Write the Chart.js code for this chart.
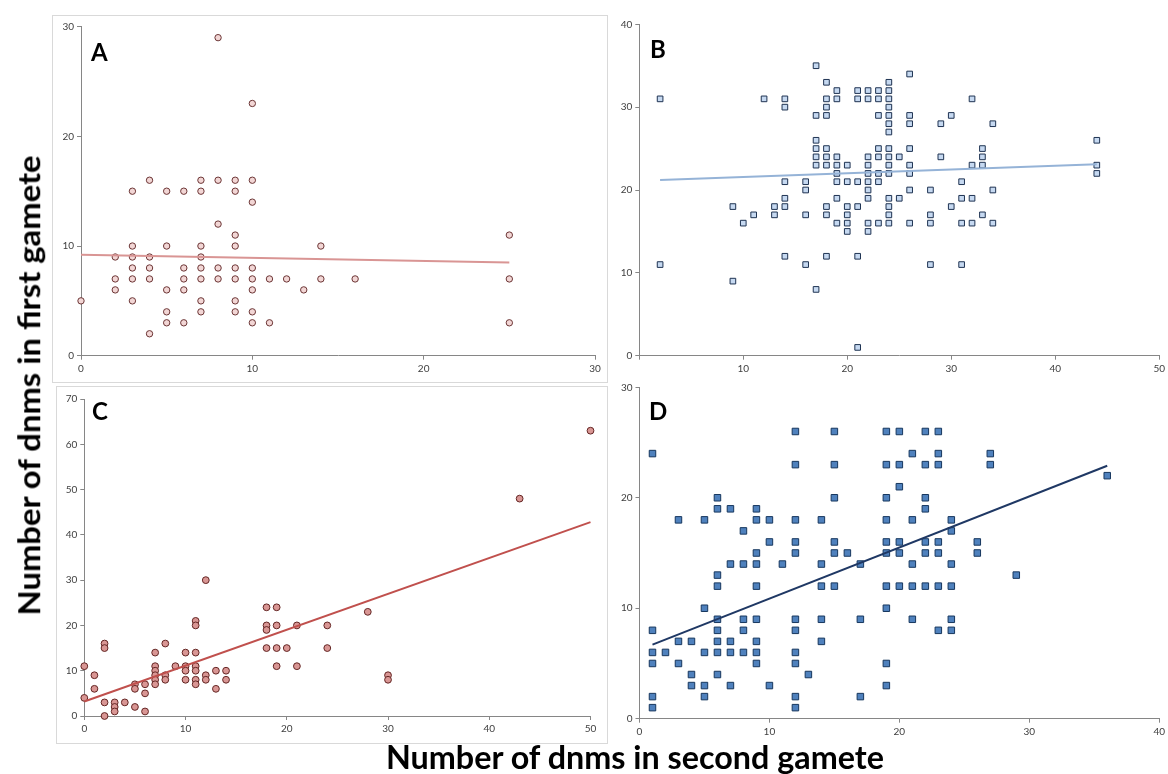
<!DOCTYPE html>
<html><head><meta charset="utf-8">
<script src="https://cdn.jsdelivr.net/npm/chart.js@4.4.0/dist/chart.umd.min.js"></script>
<style>
html,body{margin:0;padding:0;background:#fff;width:1168px;height:774px;overflow:hidden;position:relative;font-family:Lato,"Liberation Sans",sans-serif;}
.pane{position:absolute;}
.box{position:absolute;border:1px solid #d9d9d9;box-sizing:border-box;}
.lbl{position:absolute;font-weight:700;color:#000;line-height:1;white-space:nowrap;}
</style></head><body>
<div class="box" style="left:52px;top:15px;width:556px;height:368px;"></div>
<div class="box" style="left:56px;top:386px;width:552px;height:358px;"></div>
<canvas id="cA" class="pane"></canvas>
<canvas id="cB" class="pane"></canvas>
<canvas id="cC" class="pane"></canvas>
<canvas id="cD" class="pane"></canvas>
<div class="lbl" style="left:91px;top:40px;font-size:24px;">A</div>
<div class="lbl" style="left:650px;top:37px;font-size:24px;">B</div>
<div class="lbl" style="left:92px;top:399px;font-size:24px;">C</div>
<div class="lbl" style="left:649px;top:399px;font-size:24px;">D</div>
<div id="ytitle" class="lbl" style="font-size:31px;">Number of dnms in first gamete</div>
<div id="xtitle" class="lbl" style="font-size:32px;">Number of dnms in second gamete</div>
<script>
// ---- Panel A: circles ----
const aXs = [0,2,3,4,5,6,7,8,9,10,11,12,13,14,16,25];
const aYs = [[5],[9,7,6],[15,10,9,8,7,5],[16,9,8,7,2],[15,10,6,4,3],[15,8,7,6,3],[16,15,10,9,8,7,5,4],[29,16,12,8,7],[16,15,11,10,8,7,5,4],[23,16,14,8,7,6,4,3],[7,3],[7],[6],[10,7],[7],[11,7,3]];
const trendAx = [0,25];
const trendAy = [9.2,8.5];
// ---- Panel B: squares ----
const bXs = [2,9,10,11,12,13,14,16,17,18,19,20,21,22,23,24,25,26,28,29,30,31,32,33,34,44];
const bYs = [[31,11],[18,9],[16],[17],[31],[18,17],[31,30,21,19,18,12],[21,20,17,11],[35,29,26,25,24,23,8],[33,31,30,29,25,24,23,18,17,12],[32,31,24,23,22,21,19,16],[23,21,18,17,16,15],[32,31,21,18,12,1],[32,31,24,23,22,21,20,19,16,15],[32,31,29,25,24,22,21,16],[33,32,31,30,29,28,27,25,24,23,22,19,18,17,16],[24,19],[34,29,28,25,23,22,20,16],[20,17,16,11],[28,24],[29,18],[21,19,16,11],[31,23,19,16],[25,24,23,17],[28,20,16],[26,23,22]];
const trendBx = [2,44];
const trendBy = [21.2,23.1];
// ---- Panel C: circles ----
const cXs = [0,1,2,3,4,5,6,7,8,9,10,11,12,13,14,18,19,20,21,24,28,30,43,50];
const cYs = [[11,4],[9,6],[16,15,3,0],[3,2,1],[3],[7,6,2],[7,5,1],[14,11,10,9,8,7],[16,9,8],[11],[14,11,10,8],[21,20,14,11,10,8,7],[30,9,8],[10,6],[10,8],[24,20,19,15],[24,20,15,11],[15],[20,11],[20,15],[23],[9,8],[48],[63]];
const trendCx = [0,50];
const trendCy = [3.2,42.8];
// ---- Panel D: squares ----
const dXs = [1,2,3,4,5,6,7,8,9,10,11,12,13,14,15,16,17,19,20,21,22,23,24,26,27,29,36];
const dYs = [[24,8,6,5,2,1],[6],[18,7,5],[7,4,3],[18,10,6,3,2],[20,19,13,12,9,8,7,6,4],[19,14,7,6,3],[17,14,9,8,6],[19,18,15,14,12,9,7,6,5],[18,16,3],[14],[26,23,18,16,15,9,8,6,5,2,1],[4],[18,14,12,9,7],[26,23,20,16,15,12],[15],[14,9,2],[26,23,20,18,16,15,12,10,5,3],[26,23,21,16,15,12],[24,18,14,12,9],[26,23,20,19,16,15,12],[26,24,23,16,15,12,8],[18,17,14,12,9,8],[16,15],[24,23],[13],[22]];
const trendDx = [1,36];
const trendDy = [6.7,22.9];
// ---- axis ranges / tick steps ----
const aXRange = [0,30,10], aYRange = [0,30,10];
const bXRange = [0,50,10], bYRange = [0,40,10];
const cXRange = [0,50,10], cYRange = [0,70,10];
const dXRange = [0,40,10], dYRange = [0,30,10];

function pts(xs, ys){ const out=[]; xs.forEach((x,i)=>ys[i].forEach(y=>out.push({x:x,y:y}))); return out; }
function line(xs, ys){ return xs.map((x,i)=>({x:x,y:ys[i]})); }

Chart.defaults.font.family = 'Lato, "Liberation Sans", sans-serif';
Chart.defaults.color = '#404040';

function panel(id, pos, geo, xr, yr, scatter, trend, sty, hideX0){
  const cv = document.getElementById(id);
  cv.style.left = pos[0]+'px'; cv.style.top = pos[1]+'px';
  cv.width = pos[2]; cv.height = pos[3];
  cv.style.width = pos[2]+'px'; cv.style.height = pos[3]+'px';
  const axis = (r, isX) => ({
    type:'linear', min:r[0], max:r[1],
    ticks:{stepSize:r[2], font:{size:10}, color:'#404040', padding:3,
      callback:(v)=> (isX && hideX0 && v===0) ? '' : v},
    grid:{display:true, drawOnChartArea:false, drawTicks:true, tickLength:4, color:'#868686'},
    border:{display:true, color:'#868686', width:1},
    afterFit: isX ? (s)=>{s.height = geo.xh;} : (s)=>{s.width = geo.yw;}
  });
  new Chart(cv, {
    type:'scatter',
    data:{datasets:[
      {type:'line', data:trend, borderColor:sty.trend, borderWidth:2, pointRadius:0, fill:false, showLine:true, order:0, clip:false},
      {data:scatter, pointStyle:sty.shape, pointRadius:sty.r, backgroundColor:sty.fill, borderColor:sty.border, borderWidth:1, order:1, clip:false}
    ]},
    options:{
      responsive:false, animation:false, devicePixelRatio:1,
      layout:{padding:{left:0, top:geo.top, right:geo.right, bottom:geo.bottom}},
      plugins:{legend:{display:false}, tooltip:{enabled:false}},
      scales:{x:axis(xr,true), y:axis(yr,false)}
    }
  });
}

panel('cA', [40,15,570,365], {yw:41, xh:24.3, top:11.7, right:15, bottom:0}, aXRange, aYRange,
  pts(aXs,aYs), line(trendAx,trendAy), {shape:'circle', r:3.2, fill:'#F2D6D5', border:'#6B3535', trend:'#D99594'}, false);
panel('cB', [600,10,568,370], {yw:39.3, xh:24.3, top:14.3, right:8, bottom:0}, bXRange, bYRange,
  pts(bXs,bYs), line(trendBx,trendBy), {shape:'rect', r:4, fill:'#C6D9F1', border:'#1F3352', trend:'#95B3D7'}, true);
panel('cC', [45,388,565,352], {yw:39.3, xh:24, top:11, right:19.5, bottom:0}, cXRange, cYRange,
  pts(cXs,cYs), line(trendCx,trendCy), {shape:'circle', r:3.4, fill:'#D99694', border:'#632523', trend:'#C0504D'}, false);
panel('cD', [600,378,568,370], {yw:39.5, xh:24, top:9.3, right:8.5, bottom:5.3}, dXRange, dYRange,
  pts(dXs,dYs), line(trendDx,trendDy), {shape:'rect', r:4.6, fill:'#4F81BD', border:'#17375E', trend:'#1F3864'}, false);

// axis titles: fit to measured extents
const xt = document.getElementById('xtitle');
const xw = xt.getBoundingClientRect().width;
xt.style.left = '386px'; xt.style.top = '740.6px';
xt.style.transformOrigin = '0 0';
xt.style.transform = 'scaleX(' + (498/xw) + ')';
const yt = document.getElementById('ytitle');
const yr = yt.getBoundingClientRect();
yt.style.left = (29 - yr.width/2) + 'px';
yt.style.top = (385 - yr.height/2) + 'px';
yt.style.transform = 'rotate(-90deg) scaleX(' + (460/yr.width) + ')';
</script>
</body></html>
